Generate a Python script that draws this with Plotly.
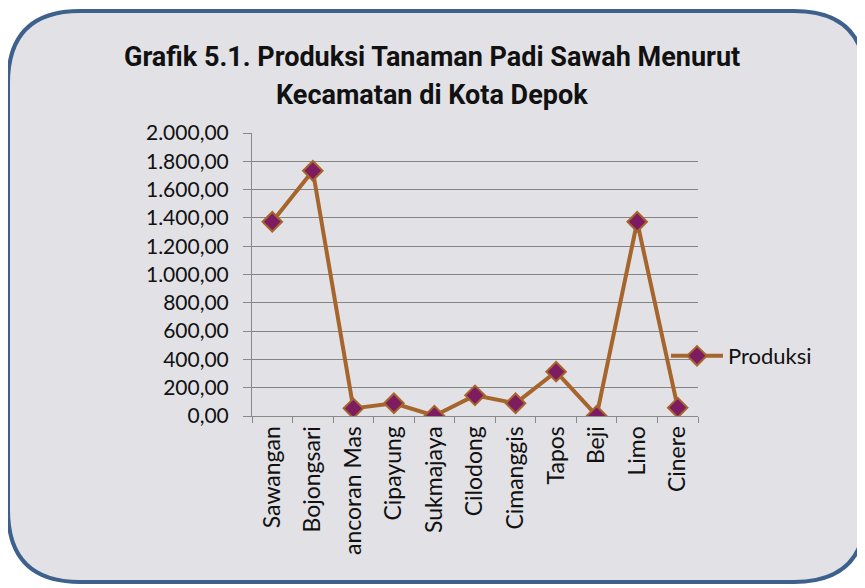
import plotly.graph_objects as go

categories = ["Sawangan", "Bojongsari", "ancoran Mas", "Cipayung", "Sukmajaya",
              "Cilodong", "Cimanggis", "Tapos", "Beji", "Limo", "Cinere"]
produksi = [1373, 1733, 54, 90, 2, 146, 90, 313, 2, 1373, 59]
y_ticks = [0, 200, 400, 600, 800, 1000, 1200, 1400, 1600, 1800, 2000]
y_ticktext = ["0,00", "200,00", "400,00", "600,00", "800,00", "1.000,00",
              "1.200,00", "1.400,00", "1.600,00", "1.800,00", "2.000,00"]
title_lines = ["Grafik 5.1. Produksi Tanaman Padi Sawah Menurut",
               "Kecamatan di Kota Depok"]

OFF = 8  # page body margin
W, H = 865, 588
L, R, T, B = 252, 698, 133, 416  # plot area in screen pixels

def px(x):
    return (x - L) / (R - L)

def py(y):
    return (B - y) / (B - T)

def rounded_path(x0, y0, x1, y1, r):
    pts = [
        f"M {px(x0 + r)} {py(y0)}",
        f"L {px(x1 - r)} {py(y0)}",
        f"Q {px(x1)} {py(y0)} {px(x1)} {py(y0 + r)}",
        f"L {px(x1)} {py(y1 - r)}",
        f"Q {px(x1)} {py(y1)} {px(x1 - r)} {py(y1)}",
        f"L {px(x0 + r)} {py(y1)}",
        f"Q {px(x0)} {py(y1)} {px(x0)} {py(y1 - r)}",
        f"L {px(x0)} {py(y0 + r)}",
        f"Q {px(x0)} {py(y0)} {px(x0 + r)} {py(y0)}",
        "Z",
    ]
    return " ".join(pts)

fig = go.Figure()
fig.add_trace(go.Scatter(
    x=categories, y=produksi, mode="lines+markers", name="Produksi",
    line=dict(color="#a5652c", width=4),
    marker=dict(symbol="diamond", size=15, color="#7d1c61",
                line=dict(color="#a5652c", width=2)),
))

fig.add_shape(type="path", xref="paper", yref="paper",
              path=rounded_path(8, 11, 866, 582, 72),
              fillcolor="#e2e2e6", line=dict(color="#3e608d", width=4),
              layer="below")

title_font = dict(family="Roboto, sans-serif", size=27, color="#111", weight="bold")
fig.add_annotation(text=title_lines[0], xref="paper", yref="paper",
                   x=px(432), y=py(57), xanchor="center", yanchor="middle",
                   showarrow=False, font=title_font)
fig.add_annotation(text=title_lines[1], xref="paper", yref="paper",
                   x=px(432), y=py(95), xanchor="center", yanchor="middle",
                   showarrow=False, font=title_font)

fig.update_layout(
    width=W, height=H,
    margin=dict(l=L - OFF, r=W - (R - OFF), t=T - OFF, b=H - (B - OFF), autoexpand=False),
    paper_bgcolor="white",
    plot_bgcolor="#f5dfb8",
    font=dict(family="Lato, sans-serif", color="#111"),
    showlegend=True,
    legend=dict(x=px(666), y=py(356), xanchor="left", yanchor="middle",
                bgcolor="rgba(0,0,0,0)", font=dict(size=22),
                itemwidth=52),
    xaxis=dict(type="category", tickangle=-90, tickfont=dict(size=23),
               showgrid=False, ticks="outside", tickson="boundaries",
               ticklen=6, tickcolor="#888", showline=True, linecolor="#888",
               range=[-0.5, len(categories) - 0.5]),
    yaxis=dict(range=[0, 2000], tickvals=y_ticks, ticktext=y_ticktext,
               tickfont=dict(size=21), showgrid=True, gridcolor="#848484",
               gridwidth=1, ticks="outside", ticklen=8, tickcolor="#888",
               ticklabelstandoff=10,
               showline=True, linecolor="#888", zeroline=False),
)

fig.write_html("out.html")
